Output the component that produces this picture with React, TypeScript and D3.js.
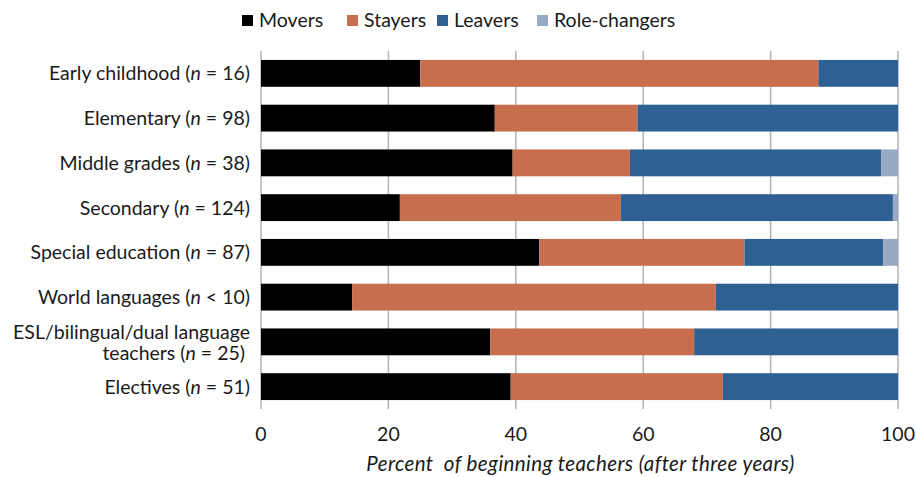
import React from "react";
import * as d3 from "d3";

const categories = [
  "Early childhood",
  "Elementary",
  "Middle grades",
  "Secondary",
  "Special education",
  "World languages",
  "ESL/bilingual/dual language teachers",
  "Electives",
];
const nLabels = ["= 16", "= 98", "= 38", "= 124", "= 87", "< 10", "= 25", "= 51"];
const movers = [25.0, 36.7, 39.5, 21.8, 43.7, 14.3, 36.0, 39.2];
const stayers = [62.5, 22.4, 18.4, 34.7, 32.2, 57.1, 32.0, 33.3];
const leavers = [12.5, 40.9, 39.5, 42.7, 21.8, 28.6, 32.0, 27.5];
const roleChangers = [0, 0, 2.6, 0.8, 2.3, 0, 0, 0];
const seriesNames = ["Movers", "Stayers", "Leavers", "Role-changers"];
const seriesColors = ["#000000", "#C86E4E", "#2E6094", "#97A9C3"];
const xTicks = [0, 20, 40, 60, 80, 100];
const xTitle = "Percent\u00a0 of beginning teachers (after three years)";

const W = 916;
const H = 477;
const FONT = "Lato, 'Open Sans', sans-serif";
const TEXT = "#1a1a1a";

export default function App() {
  const x = d3.scaleLinear().domain([0, 100]).range([261, 898]);
  const y = d3.scaleBand().domain(categories).range([51, 409]).paddingInner(0.4).paddingOuter(0.2);

  const table = categories.map((c, i) => ({
    cat: c,
    Movers: movers[i],
    Stayers: stayers[i],
    Leavers: leavers[i],
    "Role-changers": roleChangers[i],
  }));
  const stack = d3.stack<any>().keys(seriesNames)(table);

  const legendX = [242, 347, 437, 537];

  return (
    <svg width={W} height={H} style={{ position: "absolute", left: 0, top: 0, background: "#fff" }}>
      {xTicks.map((t) => (
        <line key={t} x1={x(t)} x2={x(t)} y1={51} y2={409} stroke="#b3b3b3" strokeWidth={1.5} />
      ))}
      {stack.map((s, si) =>
        s.map((d, i) => (
          <rect
            key={si + "-" + i}
            x={x(d[0])}
            width={Math.max(0, x(Math.min(100, d[1])) - x(d[0]))}
            y={y(categories[i])}
            height={y.bandwidth()}
            fill={seriesColors[si]}
          />
        ))
      )}
      {xTicks.map((t) => (
        <text key={t} x={x(t)} y={441} textAnchor="middle" fontFamily={FONT} fontSize={19.5} fill={TEXT}>
          {t}
        </text>
      ))}
      <text
        x={(x(0) + x(100)) / 2 + 1}
        y={471}
        textAnchor="middle"
        fontFamily={FONT}
        fontStyle="italic"
        fontSize={20.5}
        letterSpacing={0.4}
        fill={TEXT}
      >
        {xTitle}
      </text>
      {categories.map((c, i) => {
        const cy = (y(c) as number) + y.bandwidth() / 2;
        if (c.startsWith("ESL")) {
          return (
            <text key={c} textAnchor="end" fontFamily={FONT} fontSize={19.5} fill={TEXT}>
              <tspan x={250} y={cy - 3}>ESL/bilingual/dual language</tspan>
              <tspan x={245} y={cy + 18}>
                teachers (<tspan fontStyle="italic">n</tspan> {nLabels[i]})
              </tspan>
            </text>
          );
        }
        return (
          <text key={c} x={250} y={cy + 7} textAnchor="end" fontFamily={FONT} fontSize={19.5} fill={TEXT}>
            {c} (<tspan fontStyle="italic">n</tspan> {nLabels[i]})
          </text>
        );
      })}
      {seriesNames.map((s, i) => (
        <g key={s}>
          <rect x={legendX[i]} y={15} width={11} height={11} fill={seriesColors[i]} />
          <text x={legendX[i] + 17} y={27} fontFamily={FONT} fontSize={19.5} fill={TEXT}>
            {s}
          </text>
        </g>
      ))}
    </svg>
  );
}
